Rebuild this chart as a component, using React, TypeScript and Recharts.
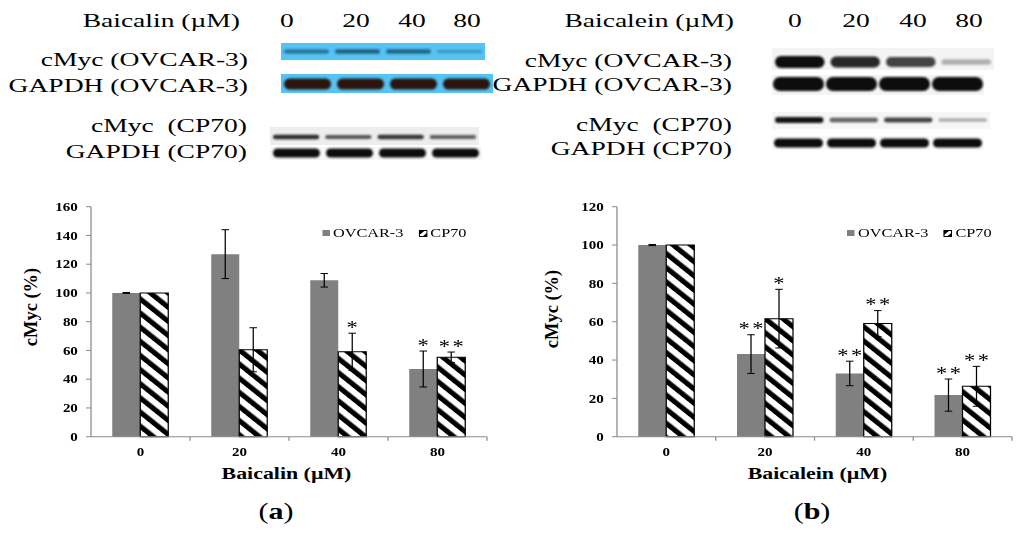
import React from 'react';
import { BarChart, Bar, XAxis, YAxis, ErrorBar, LabelList, Legend } from 'recharts';

const doses = ['0', '20', '40', '80'];

// Baicalin panel (a)
const baicalinOvcar = [100, 127, 108.8, 47.1];
const baicalinOvcarErr = [0.3, 17, 4.7, 12.5];
const baicalinCp70 = [100, 60.5, 59.1, 55.2];
const baicalinCp70Err = [0, 15.3, 12.9, 3.7];
const baicalinOvcarSig = ['', '', '', '*'];
const baicalinCp70Sig = ['', '', '*', '**'];
const baicalinTicks = [0, 20, 40, 60, 80, 100, 120, 140, 160];

// Baicalein panel (b)
const baicaleinOvcar = [100, 43.1, 33, 21.7];
const baicaleinOvcarErr = [0.3, 10.1, 6.4, 8.4];
const baicaleinCp70 = [100, 61.6, 59, 26.3];
const baicaleinCp70Err = [0, 15.3, 6.8, 10.4];
const baicaleinOvcarSig = ['', '**', '**', '**'];
const baicaleinCp70Sig = ['', '*', '**', '**'];
const baicaleinTicks = [0, 20, 40, 60, 80, 100, 120];

// blot band strengths per lane (0, 20, 40, 80 µM)
const blotBaicalinMycOvcar = [0.7, 0.9, 0.85, 0.3];
const blotBaicalinGapdhOvcar = [1, 1, 1, 1];
const blotBaicalinMycCp70 = [0.9, 0.65, 0.85, 0.6];
const blotBaicalinGapdhCp70 = [1, 1, 1, 1];
const blotBaicaleinMycOvcar = [1, 0.85, 0.7, 0.12];
const blotBaicaleinGapdhOvcar = [1, 1, 1, 1];
const blotBaicaleinMycCp70 = [0.95, 0.55, 0.7, 0.2];
const blotBaicaleinGapdhCp70 = [1, 1, 1, 1];

const FONT = "'Liberation Serif', 'Times New Roman', Times, serif";
const AXIS_GRAY = '#8a8a8a';
const OV_GRAY = '#808080';
const S_CHART = 1.25;
const S_BLOT = 1.45;

type PanelProps = {
  left: number;
  width: number;
  plotLeft: number;
  plotRight: number;
  ov: number[];
  ovErr: number[];
  ovSig: string[];
  cp: number[];
  cpErr: number[];
  cpSig: string[];
  ticks: number[];
  legendLeft: number;
};

const sigLabel = (sig: string[], values: number[], err: number[]) => (props: any) => {
  const vb = props.viewBox || props;
  const i = props.index;
  if (i == null || !sig[i]) return null;
  const { x, y, width, height } = vb;
  const h = Math.abs(height);
  const top = Math.min(y, y + height);
  const errTop = top - err[i] * (h / values[i]);
  const spacing = sig[i].length > 1 ? 2 : 0;
  return (
    <text
      x={x + width / 2 + spacing / 2}
      y={errTop + 0.5}
      textAnchor="middle"
      fontFamily={FONT}
      fontSize={18}
      letterSpacing={spacing}
      fill="#000"
    >
      {sig[i]}
    </text>
  );
};

function LegendBox() {
  return (
    <div
      style={{
        display: 'flex',
        alignItems: 'center',
        fontFamily: FONT,
        fontSize: 13,
        color: '#000',
        whiteSpace: 'nowrap',
        lineHeight: '14px',
      }}
    >
      <span style={{ display: 'inline-block', width: 6.4, height: 6, background: OV_GRAY, marginRight: 2.4 }} />
      <span>OVCAR-3</span>
      <svg width={7.2} height={7} style={{ marginLeft: 12, marginRight: 2.4 }}>
        <rect x={0.5} y={0.5} width={6.2} height={6} fill="#fff" stroke="#000" strokeWidth={1} />
        <polygon points="0.5,0.5 5,0.5 0.5,5" fill="#000" />
        <polygon points="3,6.5 6.7,2.8 6.7,6.5" fill="#000" />
      </svg>
      <span>CP70</span>
    </div>
  );
}

function Panel(p: PanelProps) {
  const data = doses.map((dose, i) => ({
    dose,
    ov: p.ov[i],
    ovErr: p.ovErr[i],
    cp: p.cp[i],
    cpErr: p.cpErr[i],
  }));
  const H = 300;
  const innerW = p.width / S_CHART;
  const yAxisW = 40;
  const xAxisH = 30;
  const plotTop = 16.7;
  const plotBottom = 246.7;
  const band = (p.plotRight - p.plotLeft) / S_CHART / doses.length;

  const XTick = (props: any) => {
    const { x, y, payload } = props;
    return (
      <g>
        <line x1={x + band / 2} x2={x + band / 2} y1={y} y2={y + 4} stroke={AXIS_GRAY} />
        <text x={x} y={y + 19.5} textAnchor="middle" fontFamily={FONT} fontWeight="bold" fontSize={12} fill="#000">
          {payload.value}
        </text>
      </g>
    );
  };

  return (
    <div
      style={{
        position: 'absolute',
        left: p.left,
        top: 190,
        width: innerW,
        height: H,
        transform: `scaleX(${S_CHART})`,
        transformOrigin: '0 0',
      }}
    >
      <BarChart
        width={innerW}
        height={H}
        data={data}
        barGap={0}
        margin={{
          top: plotTop,
          right: (p.width - p.plotRight) / S_CHART,
          bottom: H - plotBottom - xAxisH,
          left: p.plotLeft / S_CHART - yAxisW,
        }}
      >
        <XAxis
          dataKey="dose"
          height={xAxisH}
          interval={0}
          tickLine={false}
          tickSize={0}
          tickMargin={0}
          axisLine={{ stroke: AXIS_GRAY }}
          tick={<XTick />}
        />
        <YAxis
          width={yAxisW}
          domain={[0, p.ticks[p.ticks.length - 1]]}
          ticks={p.ticks}
          interval={0}
          tickSize={4}
          tickMargin={6.5}
          axisLine={{ stroke: AXIS_GRAY }}
          tickLine={{ stroke: AXIS_GRAY }}
          tick={{ fontFamily: FONT, fontWeight: 'bold', fontSize: 12, fill: '#000' }}
        />
        <Legend
          layout="horizontal"
          verticalAlign="middle"
          align="center"
          content={() => <LegendBox />}
          wrapperStyle={{ left: p.legendLeft, top: 36, width: 'auto', height: 'auto' }}
        />
        <Bar dataKey="ov" fill={OV_GRAY} barSize={28 / S_CHART} isAnimationActive={false}>
          <ErrorBar dataKey="ovErr" width={3} stroke="#000" strokeWidth={1} />
          <LabelList dataKey="ov" content={sigLabel(p.ovSig, p.ov, p.ovErr)} />
        </Bar>
        <Bar
          dataKey="cp"
          fill="url(#cpStripes)"
          stroke="#000"
          strokeWidth={1}
          barSize={28 / S_CHART}
          isAnimationActive={false}
        >
          <ErrorBar dataKey="cpErr" width={3} stroke="#000" strokeWidth={1} />
          <LabelList dataKey="cp" content={sigLabel(p.cpSig, p.cp, p.cpErr)} />
        </Bar>
      </BarChart>
    </div>
  );
}

type BlotProps = {
  x: number;
  y: number;
  w: number;
  h: number;
  cy: number;
  thick: number;
  bg: string;
  color: string;
  lanes: number[];
  gap?: number;
};

function Blot({ x, y, w, h, cy, thick, bg, color, lanes, gap = 6 }: BlotProps) {
  const laneW = w / lanes.length;
  return (
    <g>
      <rect x={x} y={y} width={w} height={h} fill={bg} />
      {lanes.map((v, i) => {
        const bh = thick * (0.4 + 0.6 * v);
        return (
          <rect
            key={i}
            x={x + i * laneW + gap / 2}
            y={cy - bh / 2}
            width={laneW - gap}
            height={bh}
            rx={bh / 2}
            fill={color}
            opacity={0.2 + 0.8 * v}
            filter="url(#soft)"
          />
        );
      })}
    </g>
  );
}

function BlotText({ x, y, anchor = 'end', children }: { x: number; y: number; anchor?: string; children: React.ReactNode }) {
  return (
    <text
      transform={`translate(${x} ${y}) scale(${S_BLOT} 1)`}
      textAnchor={anchor as any}
      fontFamily={FONT}
      fontSize={19}
      fill="#000"
      style={{ whiteSpace: 'pre' }}
    >
      {children}
    </text>
  );
}

function ChartText({ x, y, size, children }: { x: number; y: number; size: number; children: React.ReactNode }) {
  return (
    <text
      transform={`translate(${x} ${y}) scale(${S_CHART} 1)`}
      textAnchor="middle"
      fontFamily={FONT}
      fontSize={size}
      fontWeight="bold"
      fill="#000"
    >
      {children}
    </text>
  );
}

export default function App() {
  return (
    <div style={{ position: 'absolute', left: 0, top: 0, width: 1024, height: 538, background: '#fff', overflow: 'hidden' }}>
      <svg width={0} height={0} style={{ position: 'absolute' }}>
        <defs>
          <pattern id="cpStripes" patternUnits="userSpaceOnUse" width={10} height={10} patternTransform="rotate(-45)">
            <rect width={10} height={10} fill="#fff" />
            <rect x={0} y={0} width={4.6} height={10} fill="#000" />
          </pattern>
          <filter id="soft" x="-10%" y="-60%" width="120%" height="220%">
            <feGaussianBlur stdDeviation="0.8" />
          </filter>
        </defs>
      </svg>

      <Panel
        left={0}
        width={512}
        plotLeft={91}
        plotRight={487}
        ov={baicalinOvcar}
        ovErr={baicalinOvcarErr}
        ovSig={baicalinOvcarSig}
        cp={baicalinCp70}
        cpErr={baicalinCp70Err}
        cpSig={baicalinCp70Sig}
        ticks={baicalinTicks}
        legendLeft={322 / S_CHART}
      />
      <Panel
        left={512}
        width={512}
        plotLeft={105}
        plotRight={500}
        ov={baicaleinOvcar}
        ovErr={baicaleinOvcarErr}
        ovSig={baicaleinOvcarSig}
        cp={baicaleinCp70}
        cpErr={baicaleinCp70Err}
        cpSig={baicaleinCp70Sig}
        ticks={baicaleinTicks}
        legendLeft={335 / S_CHART}
      />

      <svg width={1024} height={538} style={{ position: 'absolute', left: 0, top: 0, pointerEvents: 'none' }}>
        {/* western blots, baicalin */}
        <BlotText x={240} y={27}>Baicalin (µM)</BlotText>
        <BlotText x={287} y={27} anchor="middle">0</BlotText>
        <BlotText x={356} y={27} anchor="middle">20</BlotText>
        <BlotText x={412} y={27} anchor="middle">40</BlotText>
        <BlotText x={467} y={27} anchor="middle">80</BlotText>
        <BlotText x={248} y={66}>cMyc (OVCAR-3)</BlotText>
        <BlotText x={248} y={92}>GAPDH (OVCAR-3)</BlotText>
        <BlotText x={247} y={132}>cMyc  (CP70)</BlotText>
        <BlotText x={247} y={158}>GAPDH (CP70)</BlotText>
        <Blot x={281} y={43} w={204} h={17} cy={51.5} thick={5} bg="#55c3f3" color="#1b5876" lanes={blotBaicalinMycOvcar} />
        <Blot x={281} y={74} w={212} h={19} cy={84} thick={11} bg="#55c3f3" color="#2a130e" lanes={blotBaicalinGapdhOvcar} />
        <Blot x={270} y={127} w={209} h={18} cy={137} thick={5} bg="#ededed" color="#1a1a1a" lanes={blotBaicalinMycCp70} />
        <Blot x={270} y={147} w={212} h={13} cy={153} thick={9} bg="#f7f7f7" color="#111" lanes={blotBaicalinGapdhCp70} />

        {/* western blots, baicalein */}
        <BlotText x={734} y={27}>Baicalein (µM)</BlotText>
        <BlotText x={795} y={27} anchor="middle">0</BlotText>
        <BlotText x={856} y={27} anchor="middle">20</BlotText>
        <BlotText x={913} y={27} anchor="middle">40</BlotText>
        <BlotText x={969} y={27} anchor="middle">80</BlotText>
        <BlotText x={732} y={67}>cMyc (OVCAR-3)</BlotText>
        <BlotText x={732} y={91}>GAPDH (OVCAR-3)</BlotText>
        <BlotText x={732} y={131}>cMyc  (CP70)</BlotText>
        <BlotText x={732} y={155}>GAPDH (CP70)</BlotText>
        <Blot x={772} y={48} w={222} h={22} cy={62} thick={12} bg="#f4f4f4" color="#0d0d0d" lanes={blotBaicaleinMycOvcar} />
        <Blot x={772} y={75} w={212} h={20} cy={84} thick={14} bg="#f5f5f5" color="#0d0d0d" lanes={blotBaicaleinGapdhOvcar} gap={2} />
        <Blot x={772} y={112} w={218} h={17} cy={120} thick={6} bg="#f6f6f6" color="#111" lanes={blotBaicaleinMycCp70} />
        <Blot x={772} y={136} w={212} h={14} cy={143} thick={9} bg="#fafafa" color="#111" lanes={blotBaicaleinGapdhCp70} gap={4} />

        {/* axis titles */}
        <text transform="translate(37 307) rotate(-90)" textAnchor="middle" fontFamily={FONT} fontWeight="bold" fontSize={18.5}>
          cMyc (%)
        </text>
        <text transform="translate(558 309) rotate(-90)" textAnchor="middle" fontFamily={FONT} fontWeight="bold" fontSize={18.5}>
          cMyc (%)
        </text>
        <ChartText x={286.5} y={479} size={17.5}>Baicalin (µM)</ChartText>
        <ChartText x={817.5} y={479} size={17.5}>Baicalein (µM)</ChartText>

        {/* panel letters */}
        <ChartText x={276} y={519} size={24}>
          <tspan fontWeight="normal">(</tspan>a<tspan fontWeight="normal">)</tspan>
        </ChartText>
        <ChartText x={812} y={519} size={24}>
          <tspan fontWeight="normal">(</tspan>b<tspan fontWeight="normal">)</tspan>
        </ChartText>
      </svg>
    </div>
  );
}
